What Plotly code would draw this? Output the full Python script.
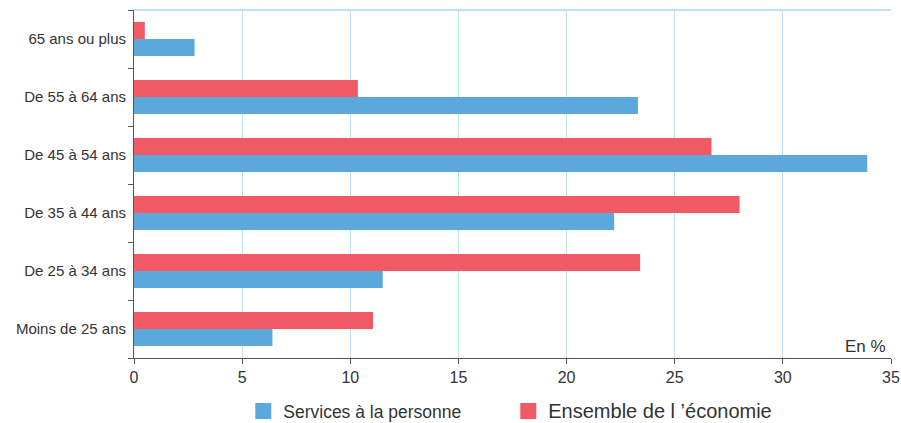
import plotly.graph_objects as go

categories = ["Moins de 25 ans", "De 25 à 34 ans", "De 35 à 44 ans",
              "De 45 à 54 ans", "De 55 à 64 ans", "65 ans ou plus"]
services = [6.4, 11.5, 22.2, 33.9, 23.3, 2.8]
ensemble = [11.05, 23.4, 28.0, 26.7, 10.35, 0.5]
x_ticks = [0, 5, 10, 15, 20, 25, 30, 35]

BLUE = "#5ba8dc"
RED = "#f05a64"
GRID = "#bfe0f5"

fig = go.Figure()
fig.add_trace(go.Bar(y=categories, x=services, orientation="h", showlegend=False,
                     name="Services à la personne", marker=dict(color=BLUE, line_width=0)))
fig.add_trace(go.Bar(y=categories, x=ensemble, orientation="h", showlegend=False,
                     name="Ensemble de l ’économie", marker=dict(color=RED, line_width=0)))

# legend entries with larger square swatches
legend_items = [("Services à la personne", BLUE, 16),
                ("<span style='font-size:20px'>Ensemble de l ’économie</span>", RED, 18)]
for name, col, sz in legend_items:
    fig.add_trace(go.Scatter(x=[None], y=[None], mode="markers", name=name,
                             marker=dict(symbol="square", size=sz, color=col)))

fig.update_xaxes(range=[0, 35], tickvals=x_ticks, showgrid=True, gridcolor=GRID, gridwidth=1,
                 showline=True, linecolor="#555", linewidth=1, ticks="outside", ticklen=5,
                 tickcolor="#555", zeroline=False, automargin=False,
                 tickfont=dict(size=16, color="#333"))
fig.update_yaxes(showgrid=False, showline=True, linecolor="#555", linewidth=1,
                 ticks="outside", tickson="boundaries", ticklen=5, tickcolor="#555",
                 automargin=False, ticklabelstandoff=4,
                 tickfont=dict(size=15, color="#333"))

# light blue frame at the top
fig.add_shape(type="line", xref="paper", yref="paper", x0=0, x1=1, y0=1, y1=1,
              line=dict(color=GRID, width=2))

fig.add_annotation(text="En %", xref="paper", yref="paper", x=0.996, y=0.0,
                   xanchor="right", yanchor="bottom", showarrow=False,
                   font=dict(size=17, color="#333"))

fig.update_layout(
    width=901, height=423,
    barmode="group", bargap=0.41, bargroupgap=0,
    plot_bgcolor="white", paper_bgcolor="white",
    margin=dict(l=134, r=10, t=10, b=65),
    font=dict(family="Liberation Sans, Arial, sans-serif", color="#333"),
    legend=dict(orientation="h", xref="container", yref="container",
                x=0.27, xanchor="left", y=0.028, yanchor="middle",
                font=dict(size=17.5, color="#333"), traceorder="normal",
                itemwidth=30, entrywidth=220),
    showlegend=True,
)

fig.write_html("out.html", config={"displayModeBar": False},
               post_script="document.body.style.margin='0';")
